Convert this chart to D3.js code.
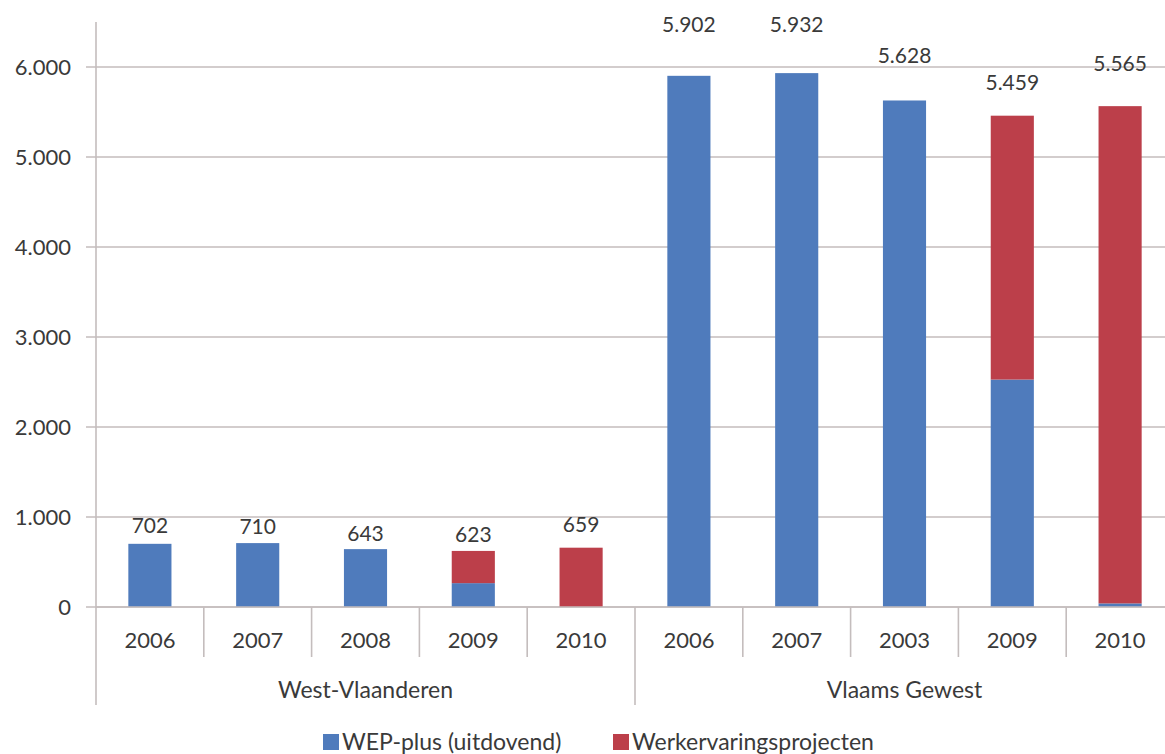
<!DOCTYPE html>
<html>
<head>
<meta charset="utf-8">
<script src="https://cdn.jsdelivr.net/npm/d3@7"></script>
<style>
  html, body { margin: 0; padding: 0; background: #fff; }
  svg { display: block; font-family: Lato, "Open Sans", sans-serif; }
</style>
</head>
<body>
<svg id="chart" width="1165" height="754"></svg>
<script>
// ---- data ----
const groups = ["West-Vlaanderen", "Vlaams Gewest"];
const years = ["2006", "2007", "2008", "2009", "2010"];
const yearLabels = ["2006", "2007", "2008", "2009", "2010", "2006", "2007", "2003", "2009", "2010"];
const wepPlus = [702, 710, 643, 265, 0, 5902, 5932, 5628, 2527, 40];
const werkervaring = [0, 0, 0, 358, 659, 0, 0, 0, 2932, 5525];
const totals = [702, 710, 643, 623, 659, 5902, 5932, 5628, 5459, 5565];
const yTicks = [0, 1000, 2000, 3000, 4000, 5000, 6000];
const seriesNames = ["WEP-plus (uitdovend)", "Werkervaringsprojecten"];

// ---- styling / layout ----
const colors = ["#4F7BBC", "#BC3F4A"];
const textColor = "#3a3a3a";
const labelLift = [18, 16, 15, 16, 23, 51, 48, 45, 33, 43]; // px above bar top as drawn in source
const svg = d3.select("#chart");
const left = 96, right = 1174, zeroY = 607, topY = 22;
const loc = d3.formatLocale({decimal: ",", thousands: ".", grouping: [3], currency: ["€", ""]});
const fmt = loc.format(",d");

const keys = d3.range(totals.length);
const x = d3.scaleBand().domain(keys).range([left, right]).paddingInner(0).paddingOuter(0);
const y = d3.scaleLinear().domain([0, 6500]).range([zeroY, topY]);
const barW = x.bandwidth() * 0.4;

// gridlines
svg.append("g").selectAll("line").data(yTicks).join("line")
  .attr("x1", left - 10).attr("x2", right)
  .attr("y1", d => y(d)).attr("y2", d => y(d))
  .attr("stroke", "#C4BDBD").attr("stroke-width", 1.6);

// y axis labels
const yAxis = d3.axisLeft(y).tickValues(yTicks).tickFormat(d => fmt(d)).tickSize(0).tickPadding(25);
const ya = svg.append("g").attr("transform", `translate(${left},0)`).call(yAxis);
ya.select(".domain").remove();
ya.selectAll("text").attr("font-size", 22).attr("fill", textColor).attr("font-family", "Lato");

// stacked bars
const stackData = keys.map(i => ({i, a: wepPlus[i], b: werkervaring[i]}));
const stack = d3.stack().keys(["a", "b"])(stackData);
svg.append("g").selectAll("g").data(stack).join("g")
  .attr("fill", (d, k) => colors[k])
  .selectAll("rect").data(d => d).join("rect")
  .attr("x", d => x(d.data.i) + (x.bandwidth() - barW) / 2)
  .attr("width", barW)
  .attr("y", d => y(d[1]))
  .attr("height", d => Math.max(0, y(d[0]) - y(d[1])));

// value labels
svg.append("g").selectAll("text").data(keys).join("text")
  .attr("x", i => x(i) + x.bandwidth() / 2)
  .attr("y", i => y(totals[i]) - labelLift[i])
  .attr("dy", "0.35em")
  .attr("text-anchor", "middle")
  .attr("font-size", 21).attr("fill", textColor)
  .text(i => fmt(totals[i]));

// axes lines
svg.append("line").attr("x1", left).attr("x2", left).attr("y1", topY).attr("y2", 705)
  .attr("stroke", "#C4BDBD").attr("stroke-width", 1.6);
svg.append("line").attr("x1", left).attr("x2", right).attr("y1", zeroY).attr("y2", zeroY)
  .attr("stroke", "#C4BDBD").attr("stroke-width", 1.6);

// category separators
const sep = svg.append("g");
keys.slice(1).forEach(i => {
  const isGroup = i % years.length === 0;
  sep.append("line").attr("x1", x(i)).attr("x2", x(i))
    .attr("y1", zeroY).attr("y2", isGroup ? 705 : 657)
    .attr("stroke", "#C4BDBD").attr("stroke-width", 1.6);
});

// year labels
svg.append("g").selectAll("text").data(keys).join("text")
  .attr("x", i => x(i) + x.bandwidth() / 2)
  .attr("y", 640).attr("dy", "0.35em").attr("text-anchor", "middle")
  .attr("font-size", 22).attr("fill", textColor)
  .text(i => yearLabels[i]);

// group labels
svg.append("g").selectAll("text").data(groups).join("text")
  .attr("x", (g, gi) => (x(gi * years.length) + x(gi * years.length + years.length - 1) + x.bandwidth()) / 2)
  .attr("y", 690).attr("dy", "0.35em").attr("text-anchor", "middle")
  .attr("font-size", 23).attr("fill", textColor)
  .text(g => g);

// legend
const legend = svg.append("g");
const legX = [323, 613];
seriesNames.forEach((n, k) => {
  legend.append("rect").attr("x", legX[k]).attr("y", 734).attr("width", 16).attr("height", 16).attr("fill", colors[k]);
  legend.append("text").attr("x", legX[k] + 19).attr("y", 742).attr("dy", "0.35em")
    .attr("font-size", 23).attr("fill", textColor).text(n);
});
</script>
</body>
</html>
